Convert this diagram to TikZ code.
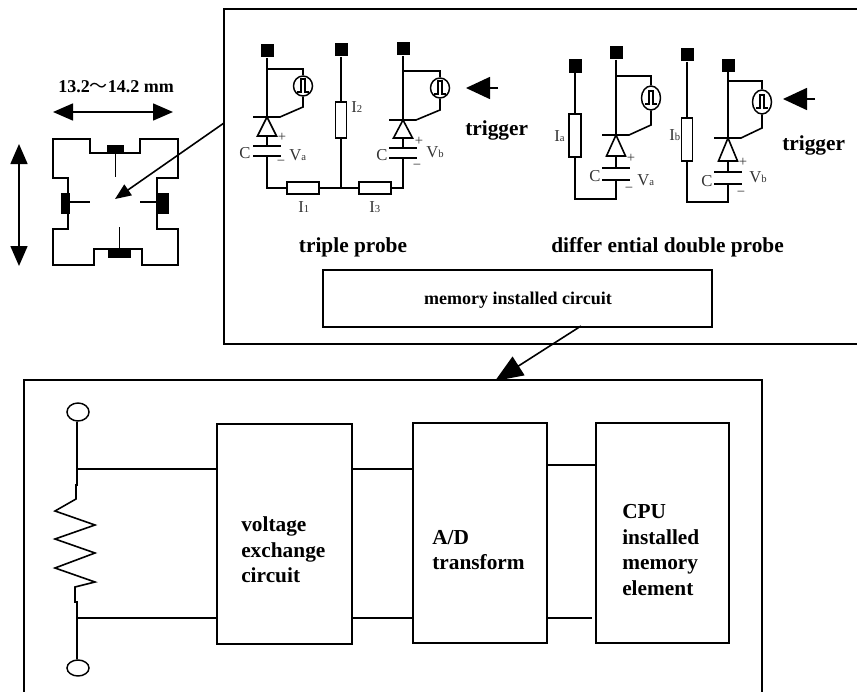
\documentclass[tikz,border=0pt]{standalone}
\usepackage{fontspec}
\setmainfont{Liberation Serif}
\newfontfamily\cjkf{Noto Sans CJK SC}
\usetikzlibrary{arrows.meta,shapes.geometric,calc}
\def\px{0.75pt}
\tikzset{
  x=0.75pt,y=-0.75pt,
  wire/.style={line width=1.2pt,line join=miter,black},
  thin wire/.style={line width=1pt,black},
  blockbox/.style={draw,line width=1.3pt,inner sep=0pt,rectangle},
  res/.style={draw,fill=white,line width=1.1pt,inner sep=0pt,rectangle},
  pad/.style={fill=black,inner sep=0pt,rectangle,minimum width=13*\px,minimum height=13*\px},
  padbig/.style={fill=black,inner sep=0pt,rectangle},
  pulse/.style={draw,ellipse,line width=1.1pt,inner sep=0pt,fill=white,minimum width=19*\px,minimum height=2*\probery*\px},
  bold/.style={font=\fontsize{16}{19.1}\selectfont\bfseries,inner sep=0pt,black,text depth=0pt},
  blocktext/.style={bold,align=left,anchor=west},
  lab/.style={font=\fontsize{12.5}{14}\selectfont,inner sep=0pt,text=black!80,anchor=base west},
  sign/.style={font=\fontsize{11}{12}\selectfont,inner sep=0pt,text=black!80},
  bigtri/.style={-{Triangle[length=24*\px,width=22*\px]},line width=1.2pt},
  dimarrow/.style={{Triangle[length=20*\px,width=17*\px]}-{Triangle[length=20*\px,width=17*\px]},line width=1.2pt},
  ptr/.style={-{Triangle[length=16*\px,width=13*\px]},line width=1.2pt},
  ptrbig/.style={-{Triangle[length=28*\px,width=22*\px]},line width=1.2pt},
}
\newcommand\sbs[1]{{\fontsize{8}{9}\selectfont #1}}
% name, x, pad y, branch y, circle x, circle y, bar y, triangle base y, first plate y
\newcommand\probecell[9]{%
  \node[pad] (#1pad) at (#2,#3) {};
  \node[pulse] (#1pulse) at (#5,#6) {};
  \coordinate (#1branch) at (#2,#4);
  \coordinate (#1apex) at (#2,#7);
  \coordinate (#1kink) at (#5,#7-10);
  \coordinate (#1plate) at (#2,#9);
  \coordinate (#1plateb) at (#2,#9+\plategap);
  \draw[wire] (#1pad) -- (#1apex);
  \draw[wire] (#1branch) -| (#1pulse.north);
  \draw[wire] (#1pulse.south) -- (#1kink) -- ($(#1apex)+(13,0)$) -- ($(#1apex)+(-14,0)$);
  \draw[wire] (#1apex) -- ($(#2,#8)+(-9.5,0)$) -- ($(#2,#8)+(9.5,0)$) -- cycle;
  \draw[wire] (#2,#8) -- (#1plate);
  \draw[wire] ($(#1plate)+(-14,0)$) -- ($(#1plate)+(14,0)$);
  \draw[wire] ($(#1plateb)+(-14,0)$) -- ($(#1plateb)+(14,0)$);
  \draw[thin wire] ($(#5,#6)+(-6,6)$) -- ($(#5,#6)+(-2,6)$) -- ($(#5,#6)+(-2,-7)$) -- ($(#5,#6)+(2,-7)$) -- ($(#5,#6)+(2,6)$) -- ($(#5,#6)+(6,6)$);
}
\begin{document}
\begin{tikzpicture}
\useasboundingbox (0,0) rectangle (857,692);

% --- frames
\coordinate (tfa) at (857,9);
\coordinate (tfb) at (224,9);
\coordinate (tfc) at (224,344);
\coordinate (tfd) at (857,344);
\draw[line width=1.2pt] (tfa) -- (tfb) -- (tfc) -- (tfd);
\coordinate (bfa) at (24,692);
\coordinate (bfb) at (24,380);
\coordinate (bfc) at (762,380);
\coordinate (bfd) at (762,692);
\draw[line width=1.2pt] (bfa) -- (bfb) -- (bfc) -- (bfd);

% --- left probe head
\coordinate (hla) at (53,112);
\coordinate (hlb) at (173,112);
\draw[dimarrow] (hla) -- (hlb);
\coordinate (vla) at (19,144);
\coordinate (vlb) at (19,266);
\draw[dimarrow] (vla) -- (vlb);
\node[bold,font=\fontsize{13.5}{16}\selectfont\bfseries,anchor=base west] (dimtext) at (58,93) {13.2{\cjkf\mdseries ～}14.2 mm};
\draw[wire] (53,139) -- (90,139) -- (90,153) -- (140,153) -- (140,139) -- (178,139) -- (178,178) -- (157,178) -- (157,229) -- (178,229) -- (178,265) -- (142,265) -- (142,249) -- (94,249) -- (94,265) -- (53,265) -- (53,229) -- (68,229) -- (68,178) -- (53,178) -- cycle;
\node[padbig,minimum width=17*\px,minimum height=8*\px] (ptop) at (115.5,149) {};
\node[padbig,minimum width=9*\px,minimum height=21*\px] (pleft) at (65.5,203.5) {};
\node[padbig,minimum width=12*\px,minimum height=21*\px] (pright) at (163,203.5) {};
\node[padbig,minimum width=23*\px,minimum height=9*\px] (pbot) at (119.5,253.5) {};
\coordinate (stop) at (115.5,177);
\coordinate (sleft) at (90,202);
\coordinate (sright) at (140,202);
\coordinate (sbot) at (119.5,227);
\draw[wire] (ptop.south) -- (stop);
\draw[wire] (pleft.east |- sleft) -- (sleft);
\draw[wire] (pright.west |- sright) -- (sright);
\draw[wire] (pbot.north) -- (sbot);
\coordinate (ptrs) at (224,123);
\coordinate (ptre) at (115,199);
\draw[ptr] (ptrs) -- (ptre);

% --- triple probe
\def\probery{10}\def\plategap{10}
\probecell{ta}{267}{51}{69}{303}{86}{117}{136}{146}
\node[pad] (tmid) at (341,50) {};
\node[res,minimum width=11*\px,minimum height=36*\px] (ri2) at (341,120) {};
\node[res,minimum width=32*\px,minimum height=12*\px] (ri1) at (303,188) {};
\node[res,minimum width=32*\px,minimum height=12*\px] (ri3) at (375,188) {};
\probecell{tb}{403}{49}{71}{440}{88}{120}{138}{148}
\coordinate (tjl) at (267,188);
\coordinate (tjm) at (341,188);
\coordinate (tjr) at (403,188);
\draw[wire] (tmid) -- (ri2);
\draw[wire] (ri2) -- (tjm);
\draw[wire] (taplateb) -- (tjl) -- (ri1);
\draw[wire] (ri1) -- (ri3);
\draw[wire] (ri3) -- (tjr) -- (tbplateb);
\node[lab] (ca) at (239,158) {C};
\node[lab] (va) at (289,160) {V\sbs{a}};
\node[sign] (pa) at (282,137) {+};
\node[sign] (ma) at (281,163) {−};
\node[lab] (i2) at (351,113) {I\sbs{2}};
\node[lab] (i1) at (298,212) {I\sbs{1}};
\node[lab] (i3) at (369,212) {I\sbs{3}};
\node[lab] (cb) at (376,160) {C};
\node[lab] (vb) at (426,157) {V\sbs{b}};
\node[sign] (pb) at (419,141) {+};
\node[sign] (mb) at (417,167) {−};

% --- differential double probe
\def\probery{12}\def\plategap{12}
\node[pad,minimum height=14*\px] (iapad) at (575,66) {};
\node[res,minimum width=12*\px,minimum height=43*\px] (ria) at (575,135.5) {};
\probecell{da}{616}{53}{76}{651}{98}{135}{156}{168}
\node[pad] (ibpad) at (687,55) {};
\node[res,minimum width=11*\px,minimum height=43*\px] (rib) at (687,139.5) {};
\probecell{db}{728}{65.5}{81}{762}{102}{138}{161}{172}
\coordinate (dja) at (575,199);
\coordinate (djb) at (616,199);
\coordinate (djc) at (687,202);
\coordinate (djd) at (728,202);
\draw[wire] (iapad) -- (ria);
\draw[wire] (ria) -- (dja) -- (djb) -- (daplateb);
\draw[wire] (ibpad) -- (rib);
\draw[wire] (rib) -- (djc) -- (djd) -- (dbplateb);
\node[lab] (ia) at (554,142) {I\sbs{a}};
\node[lab] (cc) at (589,181) {C};
\node[lab] (vc) at (637,185) {V\sbs{a}};
\node[sign] (pc) at (631,158) {+};
\node[sign] (mc) at (629,190) {−};
\node[lab] (ib) at (669,141) {I\sbs{b}};
\node[lab] (cd) at (701,186) {C};
\node[lab] (vd) at (749,182) {V\sbs{b}};
\node[sign] (pd) at (743,162) {+};
\node[sign] (md) at (741,194) {−};

% --- triggers
\coordinate (ga) at (498,88);
\coordinate (gb) at (466,88);
\draw[bigtri] (ga) -- (gb);
\coordinate (gc) at (815,99);
\coordinate (gd) at (783,99);
\draw[bigtri] (gc) -- (gd);
\node[bold,anchor=base west] (trig1) at (465,136) {trigger};
\node[bold,anchor=base west] (trig2) at (782,151) {trigger};
\node[bold,anchor=base] (triple) at (353,252) {triple probe};
\node[bold,anchor=base west] (differ) at (551,252) {differ ential double probe};

% --- memory box
\node[blockbox,minimum width=389*\px,minimum height=57*\px] (mem) at (517.5,298.5) {};
\node[bold,font=\fontsize{13.5}{16}\selectfont\bfseries,anchor=base] (memtext) at (518,304) {memory installed circuit};
\coordinate (mema) at (581,326);
\coordinate (memb) at (495,381);
\draw[ptrbig] (mema) -- (memb);

% --- lower circuit
\node[blockbox,minimum width=135*\px,minimum height=220*\px] (volt) at (284.5,534) {};
\node[blockbox,minimum width=134*\px,minimum height=220*\px] (adc) at (480,533) {};
\node[blockbox,minimum width=133*\px,minimum height=220*\px] (cpu) at (662.5,533) {};
\node[blocktext] (volttext) at (241,550) {voltage\\exchange\\circuit};
\node[blocktext] (adctext) at (432,550) {A/D\\transform};
\node[blocktext] (cputext) at (622,550) {CPU\\installed\\memory\\element};
\node[draw,ellipse,line width=1.1pt,inner sep=0pt,minimum width=22*\px,minimum height=18*\px] (termt) at (78,412) {};
\node[draw,ellipse,line width=1.1pt,inner sep=0pt,minimum width=22*\px,minimum height=16*\px] (termb) at (78,668) {};
\coordinate (ju) at (77,469);
\coordinate (jl) at (77,618);
\coordinate (cpulow) at (592,618);
\draw[wire] (termt.south -| ju) -- (ju) -- (77,485) -- (76,485) -- (76,499) -- (55,511) -- (95,525) -- (55,539) -- (95,553) -- (55,568) -- (95,582) -- (75,587) -- (75,602) -- (77,602) -- (jl) -- (termb.north -| jl);
\draw[wire] (ju) -- (volt.west |- ju);
\draw[wire] (jl) -- (volt.west |- jl);
\draw[wire] (volt.east |- ju) -- (adc.west |- ju);
\draw[wire] (volt.east |- jl) -- (adc.west |- jl);
\draw[wire] (adc.east |- 0,465) -- (cpu.west |- 0,465);
\draw[wire] (adc.east |- jl) -- (cpulow);
\end{tikzpicture}
\end{document}
